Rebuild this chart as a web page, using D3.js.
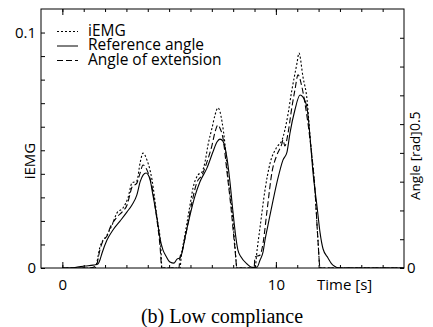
<!DOCTYPE html>
<html>
<head>
<meta charset="utf-8">
<script src="https://cdn.jsdelivr.net/npm/d3@7"></script>
<style>
  html, body { margin: 0; padding: 0; background: #fff; }
  svg { display: block; }
  .sans { font-family: "Open Sans", "Noto Sans", sans-serif; fill: #000; }
  .serif { font-family: "Liberation Serif", "Times New Roman", serif; fill: #000; }
</style>
</head>
<body>
<svg id="chart" width="433" height="327"></svg>
<script>
// ---- Data ----
const seriesNames = ["iEMG", "Reference angle", "Angle of extension"];

// iEMG (left axis)
const emgTime  = [0,1.53,1.62,1.76,2.09, 2.33,2.56,2.84,3.07,3.26, 3.49,3.64,3.78,3.96,4.20, 4.43,4.62,4.66,5.51,5.56,
                  5.74,5.98,6.12,6.35,6.54, 6.68,6.82,7.01,7.15,7.29, 7.48,7.62,7.76,7.95,8.08, 8.18,9.02,9.12,9.26,9.49,
                  9.73,10.05,10.29,10.52,10.75, 10.99,11.08,11.27,11.46,11.60, 11.83,11.97,12.07,16];
const emgValue = [0,0,0.0025,0.0089,0.0140, 0.0183,0.0234,0.0255,0.0297,0.0361, 0.0370,0.0446,0.0488,0.0459,0.0374, 0.0217,0.0076,0,0,0.0042,
                  0.0140,0.0268,0.0340,0.0395,0.0408, 0.0450,0.0522,0.0595,0.0650,0.0680, 0.0620,0.0522,0.0382,0.0238,0.0098, 0,0,0.0076,0.0174,0.0331,
                  0.0446,0.0514,0.0544,0.0629,0.0756, 0.0871,0.0913,0.0811,0.0714,0.0556, 0.0331,0.0119,0,0];

// Reference angle (right axis)
const refTime  = [0,0.59,1.06,1.44,1.67, 1.76,1.86,2.09,2.37,2.70, 3.03,3.26,3.49,3.64,3.78, 3.92,4.10,4.24,4.43,4.57,
                  4.71,4.85,5.04,5.23,5.37, 5.51,5.60,5.74,5.98,6.21, 6.44,6.77,7.05,7.24,7.38, 7.52,7.71,7.85,7.99,8.13,
                  8.22,8.37,8.65,8.88,9.12, 9.26,9.40,9.49,9.63,9.87, 10.10,10.33,10.52,10.66,10.89, 11.13,11.27,11.46,11.60,11.74,
                  11.93,12.07,12.21,12.44,12.67, 13.0,16];
const refAngle = [0,0.002,0.007,0.010,0.014, 0.028,0.052,0.097,0.132,0.163, 0.195,0.219,0.254,0.299,0.323, 0.330,0.309,0.254,0.174,0.104,
                  0.063,0.042,0.021,0.017,0.031, 0.035,0.052,0.104,0.184,0.250, 0.299,0.347,0.403,0.438,0.448, 0.441,0.382,0.299,0.195,0.104,
                  0.063,0.038,0.014,0.002,0.003, 0.028,0.056,0.097,0.149,0.236, 0.313,0.375,0.403,0.469,0.549, 0.601,0.594,0.556,0.455,0.330,
                  0.212,0.122,0.066,0.035,0.010, 0,0];

// Angle of extension (right axis)
const extTime  = [0,1.29,1.58,1.76,1.90, 2.09,2.23,2.56,2.84,3.03, 3.16,3.26,3.49,3.64,3.78, 3.96,4.20,4.43,4.57,4.66,
                  5.46,5.51,5.60,5.84,6.07, 6.31,6.54,6.77,7.01,7.15, 7.29,7.38,7.52,7.71,7.90, 8.08,8.18,8.98,9.02,9.26,
                  9.40,9.59,9.82,10.05,10.29, 10.33,10.42,10.57,10.75,10.89, 11.04,11.22,11.36,11.60,11.83, 11.97,12.07,16];
const extAngle = [0,0,0.007,0.063,0.094, 0.111,0.139,0.177,0.198,0.219, 0.254,0.281,0.295,0.330,0.358, 0.341,0.281,0.167,0.080,0,
                  0,0.038,0.056,0.139,0.229, 0.299,0.323,0.368,0.427,0.473, 0.497,0.486,0.452,0.334,0.208, 0.069,0,0,0.038,0.045,
                  0.087,0.202,0.334,0.393,0.434, 0.445,0.424,0.469,0.559,0.618, 0.671,0.629,0.573,0.445,0.271, 0.097,0,0];

// Axes / ticks
const timeMinorTicks = d3.range(-1, 17, 1);
const timeLabelTicks = [0, 10];
const emgMinorTicks = d3.range(0, 0.1001, 0.01);
const emgLabelTicks = [0, 0.1];
const emgLabels = ["0", "0.1"];
const angleMinorTicks = d3.range(0, 0.8001, 0.1);
const xTitle = "Time [s]";
const yLeftTitle = "iEMG";
const yRightTitle = "Angle [rad]";
const caption = "(b) Low compliance";

// ---- Chart ----
const svg = d3.select("#chart");
const L = 41, R = 404, T = 9, B = 268;

const x  = d3.scaleLinear().domain([-1, 16]).range([L, R]);
const yL = d3.scaleLinear().domain([0, 0.11]).range([B, T]);
const yR = d3.scaleLinear().domain([0, 0.9]).range([B, T]);

function strip(g) { g.select(".domain").remove(); g.selectAll("line").attr("stroke", "#000").attr("stroke-width", 1); }

// bottom ticks (pointing up)
svg.append("g").attr("transform", `translate(0,${B})`)
  .call(d3.axisBottom(x).tickValues(timeMinorTicks.filter(d => d > -1 && d < 16)).tickSize(-3).tickFormat(""))
  .call(strip);
svg.append("g").attr("transform", `translate(0,${B})`)
  .call(d3.axisBottom(x).tickValues(timeLabelTicks).tickSize(-6).tickPadding(11).tickFormat(d3.format("d")))
  .call(strip)
  .call(g => g.selectAll("text").attr("class", "sans").style("font-size", "15px").attr("fill", "#000"));
// top ticks (pointing down)
svg.append("g").attr("transform", `translate(0,${T})`)
  .call(d3.axisTop(x).tickValues(timeMinorTicks.filter(d => d > -1 && d < 16)).tickSize(-3).tickFormat(""))
  .call(strip);
svg.append("g").attr("transform", `translate(0,${T})`)
  .call(d3.axisTop(x).tickValues(timeLabelTicks).tickSize(-6).tickFormat(""))
  .call(strip);
// left ticks (pointing right)
svg.append("g").attr("transform", `translate(${L},0)`)
  .call(d3.axisLeft(yL).tickValues(emgMinorTicks).tickSize(-4).tickFormat(""))
  .call(strip);
svg.append("g").attr("transform", `translate(${L},0)`)
  .call(d3.axisLeft(yL).tickValues(emgLabelTicks).tickSize(0).tickPadding(5).tickFormat((d, i) => emgLabels[i]))
  .call(strip)
  .call(g => g.selectAll("text").attr("class", "sans").style("font-size", "15px").attr("fill", "#000"));
// right ticks (pointing left)
svg.append("g").attr("transform", `translate(${R},0)`)
  .call(d3.axisRight(yR).tickValues(angleMinorTicks).tickSize(-4).tickFormat(""))
  .call(strip);

// frame
svg.append("rect").attr("x", L).attr("y", T).attr("width", R - L).attr("height", B - T)
  .attr("fill", "none").attr("stroke", "#000").attr("stroke-width", 1);

// right axis labels
svg.append("text").attr("class", "sans").style("font-size", "15px")
  .attr("x", R + 3).attr("y", yR(0)).attr("dy", "0.36em").text("0");
svg.append("text").attr("class", "sans").style("font-size", "14px")
  .attr("transform", `translate(${R + 16},${yR(0.5) + 7}) rotate(-90)`).text("0.5");
svg.append("text").attr("class", "sans").style("font-size", "13.5px")
  .attr("transform", `translate(${R + 16},${200}) rotate(-90)`).text(yRightTitle);

// left title
svg.append("text").attr("class", "sans").style("font-size", "15px").attr("text-anchor", "middle")
  .attr("transform", `translate(${35},${161}) rotate(-90)`).text(yLeftTitle);

// x title
svg.append("text").attr("class", "sans").style("font-size", "15px")
  .attr("x", 317).attr("y", 290).text(xTitle);

// caption
svg.append("text").attr("class", "serif").style("font-size", "20px").attr("text-anchor", "middle")
  .attr("x", 222).attr("y", 323).text(caption);

// lines
const clip = svg.append("clipPath").attr("id", "clip").append("rect")
  .attr("x", L).attr("y", T).attr("width", R - L).attr("height", B - T);
const plot = svg.append("g").attr("clip-path", "url(#clip)");

const lineEmg = d3.line().x((d, i) => x(emgTime[i])).y(d => yL(d)).curve(d3.curveMonotoneX);
const lineRef = d3.line().x((d, i) => x(refTime[i])).y(d => yR(d)).curve(d3.curveMonotoneX);
const lineExt = d3.line().x((d, i) => x(extTime[i])).y(d => yR(d)).curve(d3.curveMonotoneX);

const styles = [
  { dash: "2,2" },
  { dash: null },
  { dash: "6,3" }
];

plot.append("path").attr("d", lineRef(refAngle)).attr("fill", "none").attr("stroke", "#000").attr("stroke-width", 1.1);
plot.append("path").attr("d", lineExt(extAngle)).attr("fill", "none").attr("stroke", "#000").attr("stroke-width", 1.1).attr("stroke-dasharray", styles[2].dash);
plot.append("path").attr("d", lineEmg(emgValue)).attr("fill", "none").attr("stroke", "#000").attr("stroke-width", 1.1).attr("stroke-dasharray", styles[0].dash);

// legend
const legend = svg.append("g");
seriesNames.forEach((name, i) => {
  const yb = 35.5 + i * 14.5;
  legend.append("line").attr("x1", 57).attr("x2", 78).attr("y1", yb - 4).attr("y2", yb - 4)
    .attr("stroke", "#000").attr("stroke-width", 1).attr("stroke-dasharray", styles[i].dash);
  legend.append("text").attr("class", "sans").style("font-size", "15.5px")
    .attr("x", 88).attr("y", yb).text(name);
});
</script>
</body>
</html>
